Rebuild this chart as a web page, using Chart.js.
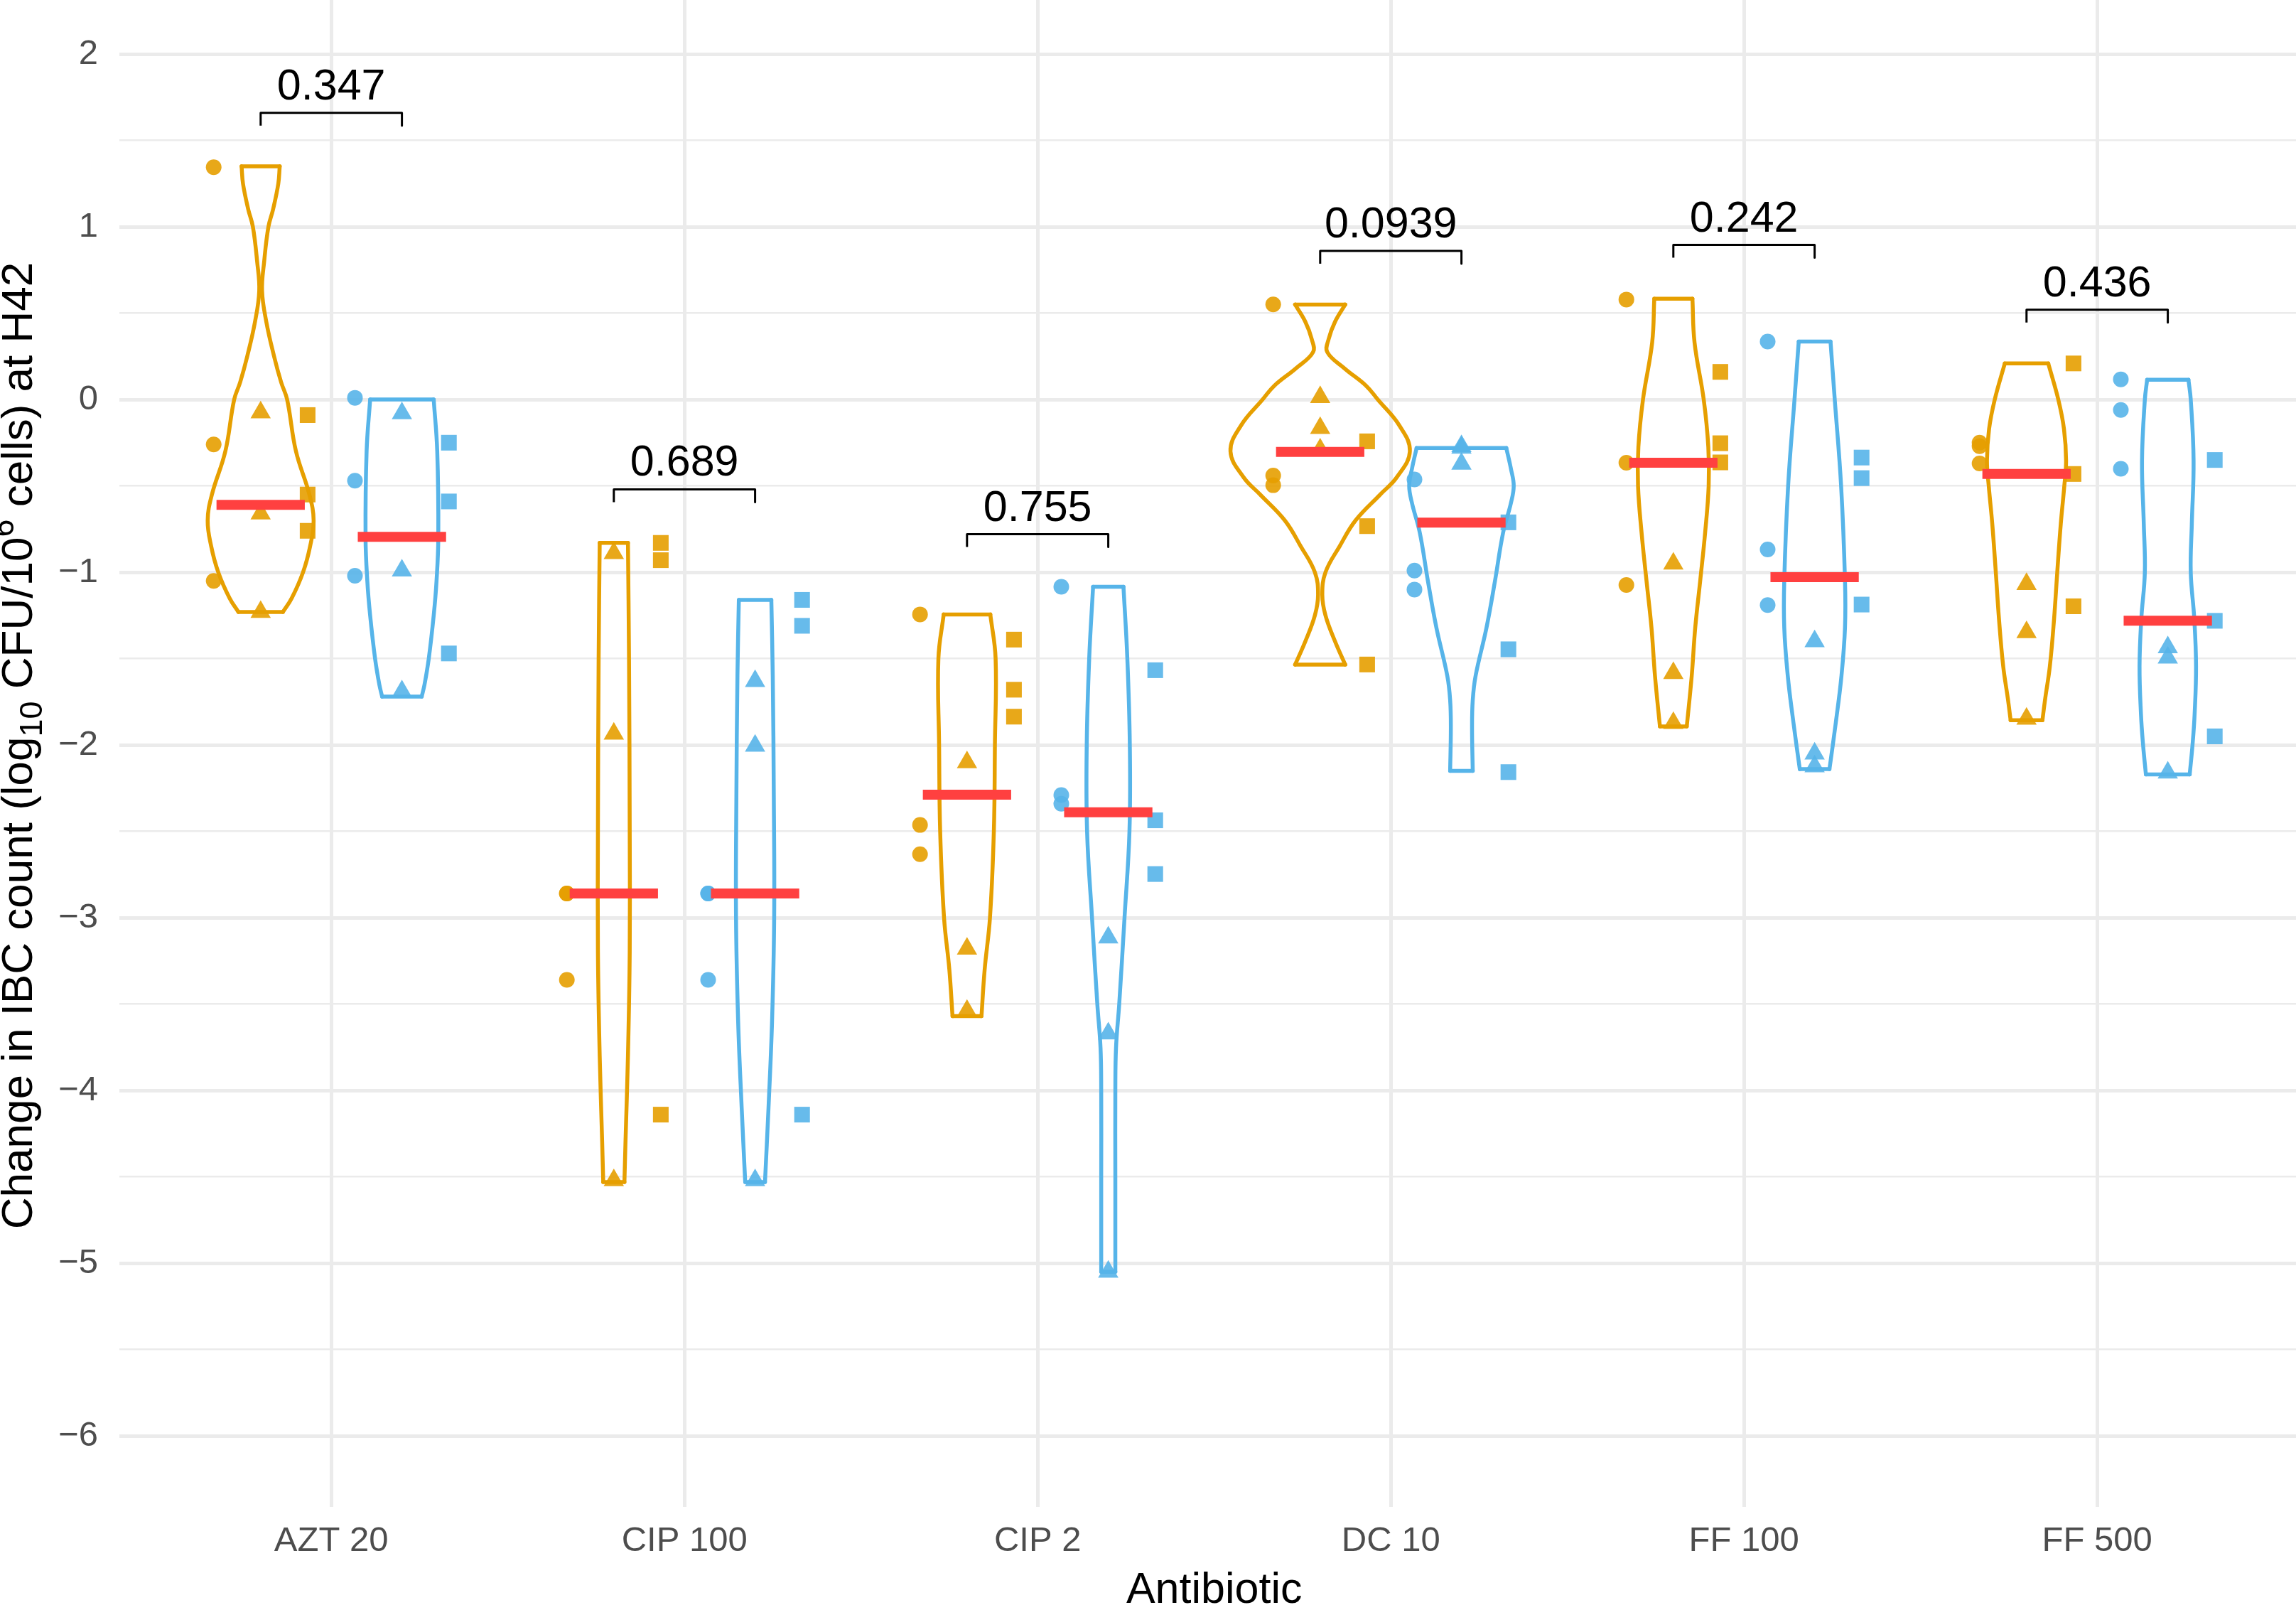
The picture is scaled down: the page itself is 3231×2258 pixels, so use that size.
<!DOCTYPE html>
<html>
<head>
<meta charset="utf-8">
<script src="https://cdn.jsdelivr.net/npm/chart.js@4.4.1/dist/chart.umd.min.js"></script>
<style>
html, body { margin: 0; padding: 0; background: #fff; overflow: hidden; }
canvas { display: block; }
</style>
</head>
<body>
<canvas id="chart" width="3231" height="2258"></canvas>
<script>
var antibiotics = ["AZT 20", "CIP 100", "CIP 2", "DC 10", "FF 100", "FF 500"]
var pLabels = ["0.347", "0.689", "0.755", "0.0939", "0.242", "0.436"]
var bracketY = [1.66, -0.52, -0.78, 0.86, 0.895, 0.52]
var yTicks = [-6, -5.5, -5, -4.5, -4, -3.5, -3, -2.5, -2, -1.5, -1, -0.5, 0, 0.5, 1, 1.5, 2]

// group A (orange), one list per antibiotic
var aCircles = [[1.345, -0.26, -1.05], [-2.86, -2.86, -3.36], [-1.244, -2.463, -2.632], [0.551, -0.44, -0.496], [0.579, -0.366, -1.074], [-0.25, -0.27, -0.37]]
var aTriangles = [[-0.075, -0.66, -1.23], [-0.89, -1.935, -4.52], [-2.10, -3.18, -3.54], [0.014, -0.165, -0.29], [-0.95, -1.584, -1.873], [-1.069, -1.347, -1.848]]
var aSquares = [[-0.09, -0.55, -0.76], [-0.83, -0.93, -4.14], [-1.39, -1.68, -1.836], [-0.242, -0.733, -1.534], [0.16, -0.253, -0.364], [0.209, -0.431, -1.197]]
var aMedian = [-0.61, -2.86, -2.288, -0.303, -0.366, -0.431]

// group B (blue)
var bCircles = [[0.01, -0.47, -1.02], [-2.86, -2.86, -3.36], [-1.084, -2.29, -2.34], [-0.463, -0.99, -1.10], [0.336, -0.868, -1.19], [0.117, -0.06, -0.401]]
var bTriangles = [[-0.08, -0.99, -1.69], [-1.63, -2.005, -4.52], [-3.115, -3.67, -5.05], [-0.27, -0.28, -0.372], [-1.40, -2.05, -2.124], [-1.435, -1.494, -2.16]]
var bSquares = [[-0.25, -0.59, -1.47], [-1.16, -1.31, -4.14], [-1.567, -2.436, -2.747], [-0.711, -1.446, -2.157], [-0.336, -0.455, -1.187], [-0.35, -1.281, -1.95]]
var bMedian = [-0.795, -2.86, -2.39, -0.713, -1.028, -1.281]

// violin outlines: [value, half width] read top to bottom
var aViolins = [
  [[1.35, 0.054], [1.25, 0.05], [1.1, 0.035], [1.0, 0.022], [0.8, 0.01], [0.63, 0.004], [0.45, 0.016], [0.25, 0.038], [0.1, 0.058], [0.0, 0.075], [-0.3, 0.1], [-0.55, 0.138], [-0.7, 0.15], [-0.85, 0.14], [-1.0, 0.12], [-1.15, 0.088], [-1.23, 0.063]],
  [[-0.83, 0.04], [-1.5, 0.043], [-2.5, 0.045], [-3.2, 0.045], [-3.8, 0.04], [-4.3, 0.033], [-4.53, 0.03]],
  [[-1.244, 0.066], [-1.5, 0.081], [-2.0, 0.079], [-2.5, 0.076], [-3.0, 0.065], [-3.3, 0.05], [-3.57, 0.041]],
  [[0.55, 0.071], [0.45, 0.042], [0.35, 0.024], [0.275, 0.02], [0.18, 0.069], [0.08, 0.13], [0.0, 0.163], [-0.15, 0.224], [-0.3, 0.254], [-0.45, 0.217], [-0.55, 0.17], [-0.7, 0.1], [-0.85, 0.055], [-1.0, 0.015], [-1.13, 0.006], [-1.25, 0.015], [-1.4, 0.042], [-1.535, 0.071]],
  [[0.584, 0.054], [0.33, 0.06], [0.0, 0.086], [-0.275, 0.099], [-0.5, 0.1], [-0.77, 0.09], [-1.05, 0.076], [-1.32, 0.062], [-1.6, 0.052], [-1.893, 0.038]],
  [[0.209, 0.0615], [0.0, 0.09], [-0.17, 0.106], [-0.354, 0.112], [-0.5, 0.107], [-0.72, 0.097], [-1.0, 0.087], [-1.27, 0.078], [-1.545, 0.066], [-1.73, 0.053], [-1.857, 0.045]]
]
var bViolins = [
  [[0.0, 0.09], [-0.3, 0.1], [-0.8, 0.103], [-1.05, 0.098], [-1.25, 0.09], [-1.5, 0.076], [-1.65, 0.064], [-1.72, 0.056]],
  [[-1.16, 0.046], [-1.6, 0.05], [-2.3, 0.053], [-3.0, 0.054], [-3.6, 0.048], [-4.1, 0.038], [-4.53, 0.028]],
  [[-1.084, 0.043], [-1.5, 0.054], [-2.0, 0.061], [-2.5, 0.06], [-3.0, 0.046], [-3.5, 0.031], [-3.75, 0.022], [-4.0, 0.02], [-4.5, 0.02], [-5.05, 0.02]],
  [[-0.281, 0.127], [-0.4, 0.14], [-0.5, 0.148], [-0.6, 0.14], [-0.77, 0.118], [-1.05, 0.095], [-1.32, 0.071], [-1.6, 0.04], [-1.74, 0.032], [-1.9, 0.03], [-2.15, 0.032]],
  [[0.336, 0.045], [0.0, 0.057], [-0.5, 0.075], [-1.05, 0.086], [-1.32, 0.086], [-1.6, 0.076], [-1.87, 0.06], [-2.14, 0.042]],
  [[0.114, 0.0585], [0.0, 0.065], [-0.354, 0.073], [-0.72, 0.068], [-1.0, 0.065], [-1.27, 0.075], [-1.545, 0.08], [-1.82, 0.076], [-2.0, 0.07], [-2.17, 0.062]]
]

var orange = "#E69F00"
var blue = "#56B4E9"
var orangeFill = "rgba(230,159,0,0.9)"
var blueFill = "rgba(86,180,233,0.9)"
var dodge = 0.2
var jitter = 0.133

var datasets = []

function lineSet(pts, color, width, tension, order, cap){
  return {
    data: pts,
    showLine: true,
    borderColor: color,
    borderWidth: width,
    borderCapStyle: cap || "round",
    borderJoinStyle: "round",
    tension: tension,
    pointRadius: 0,
    pointHoverRadius: 0,
    fill: false,
    order: order
  }
}

function addViolin(profile, c, color){
  var right = profile.map(function(p){ return {x: c + p[1], y: p[0]} })
  var left = profile.map(function(p){ return {x: c - p[1], y: p[0]} })
  var t = profile[0], b = profile[profile.length - 1]
  datasets.push(lineSet(right, color, 5.5, 0.4, 4))
  datasets.push(lineSet(left, color, 5.5, 0.4, 4))
  datasets.push(lineSet([{x: c - t[1], y: t[0]}, {x: c + t[1], y: t[0]}], color, 5.5, 0, 4))
  datasets.push(lineSet([{x: c - b[1], y: b[0]}, {x: c + b[1], y: b[0]}], color, 5.5, 0, 4))
}

function addPoints(vals, x, style, radius, color){
  datasets.push({
    data: vals.map(function(v){ return {x: x, y: v} }),
    showLine: false,
    pointStyle: style,
    pointRadius: radius,
    pointHoverRadius: radius,
    pointBackgroundColor: color,
    pointBorderWidth: 0,
    order: 3
  })
}

for (var i = 0; i < antibiotics.length; i++){
  var ca = i + 1 - dodge
  var cb = i + 1 + dodge
  addViolin(aViolins[i], ca, orange)
  addViolin(bViolins[i], cb, blue)

  addPoints(aCircles[i], ca - jitter, "circle", 11, orangeFill)
  addPoints(aTriangles[i], ca, "triangle", 16.5, orangeFill)
  addPoints(aSquares[i], ca + jitter, "rect", 15.6, orangeFill)
  addPoints(bCircles[i], cb - jitter, "circle", 11, blueFill)
  addPoints(bTriangles[i], cb, "triangle", 16.5, blueFill)
  addPoints(bSquares[i], cb + jitter, "rect", 15.6, blueFill)

  datasets.push(lineSet([{x: ca - 0.125, y: aMedian[i]}, {x: ca + 0.125, y: aMedian[i]}], "#FF4040", 14, 0, 2, "butt"))
  datasets.push(lineSet([{x: cb - 0.125, y: bMedian[i]}, {x: cb + 0.125, y: bMedian[i]}], "#FF4040", 14, 0, 2, "butt"))

  var by = bracketY[i]
  datasets.push(lineSet([{x: ca, y: by - 0.074}, {x: ca, y: by}, {x: cb, y: by}, {x: cb, y: by - 0.074}], "#000000", 3, 0, 1, "butt"))
}

// p values and axis titles drawn on top
var textPlugin = {
  id: "texts",
  afterDraw: function(chart){
    var ctx = chart.ctx
    var xs = chart.scales.x
    var ys = chart.scales.y
    ctx.save()
    ctx.fillStyle = "#000000"
    ctx.font = '61px "Liberation Sans"'
    ctx.textAlign = "center"
    ctx.textBaseline = "alphabetic"
    for (var i = 0; i < pLabels.length; i++){
      ctx.fillText(pLabels[i], xs.getPixelForValue(i + 1), ys.getPixelForValue(bracketY[i]) - 19)
    }
    ctx.fillText("Antibiotic", xs.getPixelForValue(3.5), 2255)

    var parts = [
      ["Change in IBC count (log", 62, 0],
      ["10", 45, 14],
      [" CFU/10", 62, 0],
      ["6", 45, -26],
      [" cells) at H42", 62, 0]
    ]
    var total = 0
    parts.forEach(function(p){
      ctx.font = p[1] + 'px "Liberation Sans"'
      p.push(ctx.measureText(p[0]).width)
      total += p[3]
    })
    ctx.translate(45, 1049)
    ctx.rotate(-Math.PI / 2)
    ctx.textAlign = "left"
    var cx = -total / 2
    parts.forEach(function(p){
      ctx.font = p[1] + 'px "Liberation Sans"'
      ctx.fillText(p[0], cx, p[2])
      cx += p[3]
    })
    ctx.restore()
  }
}

var minus = function(v){ return v < 0 ? "\u2212" + Math.abs(v) : "" + v }

function noPad(s){
  s.paddingLeft = 0
  s.paddingRight = 0
  s.paddingTop = 0
  s.paddingBottom = 0
}

new Chart(document.getElementById("chart"), {
  type: "scatter",
  data: { datasets: datasets },
  plugins: [textPlugin],
  options: {
    responsive: false,
    animation: false,
    devicePixelRatio: 1,
    layout: { padding: 0, autoPadding: false },
    plugins: { legend: { display: false }, tooltip: { enabled: false } },
    scales: {
      x: {
        type: "linear",
        min: 0.4,
        max: 6.563,
        afterFit: function(s){ s.height = 138; noPad(s) },
        afterBuildTicks: function(s){
          s.ticks = antibiotics.map(function(a, i){ return {value: i + 1} })
        },
        ticks: {
          autoSkip: false,
          maxRotation: 0,
          padding: 19,
          color: "#4D4D4D",
          font: { family: "Liberation Sans", size: 49 },
          callback: function(v){ return antibiotics[v - 1] }
        },
        grid: { color: "#EBEBEB", lineWidth: 5, drawTicks: false },
        border: { display: false }
      },
      y: {
        type: "linear",
        min: -6.411,
        max: 2.313,
        afterFit: function(s){ s.width = 168; noPad(s) },
        afterBuildTicks: function(s){
          s.ticks = yTicks.map(function(v){ return {value: v} })
        },
        ticks: {
          autoSkip: false,
          padding: 30,
          color: "#4D4D4D",
          font: { family: "Liberation Sans", size: 49 },
          callback: function(v){ return Number.isInteger(v) ? minus(v) : "" }
        },
        grid: {
          color: "#EBEBEB",
          drawTicks: false,
          lineWidth: function(c){ return Number.isInteger(c.tick.value) ? 5 : 2.5 }
        },
        border: { display: false }
      }
    }
  }
})
</script>
</body>
</html>
